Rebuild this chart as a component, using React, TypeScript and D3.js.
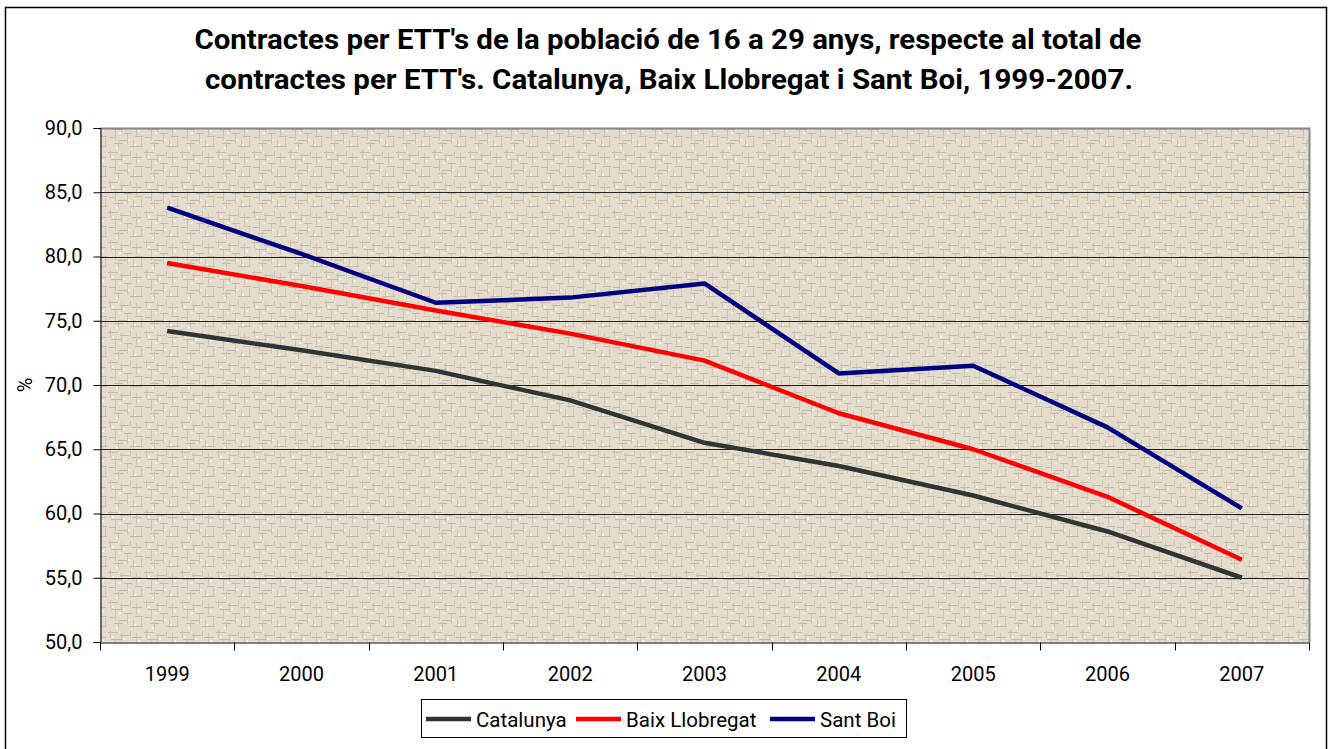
import React, { useEffect, useRef } from 'react';
import * as d3 from 'd3';

const years = ['1999', '2000', '2001', '2002', '2003', '2004', '2005', '2006', '2007'];
const catalunya = [74.2, 72.7, 71.1, 68.8, 65.5, 63.7, 61.4, 58.6, 55.0];
const baixLlobregat = [79.5, 77.7, 75.8, 74.0, 71.9, 67.8, 65.0, 61.3, 56.4];
const santBoi = [83.8, 80.2, 76.4, 76.8, 77.9, 70.9, 71.5, 66.7, 60.4];
const yTicks = [50, 55, 60, 65, 70, 75, 80, 85, 90];

const seriesList = [
  { name: 'Catalunya', values: catalunya, color: '#333333' },
  { name: 'Baix Llobregat', values: baixLlobregat, color: '#ff0000' },
  { name: 'Sant Boi', values: santBoi, color: '#000080' },
];

const W = 1330;
const H = 749;
const FONT = 'Roboto, "Liberation Sans", sans-serif';

const App = () => {
  const svgRef = useRef<SVGSVGElement>(null);

  useEffect(() => {
    const svg = d3.select(svgRef.current);
    svg.selectAll('*').remove();

    const left = 100, right = 1309, top = 128, bottom = 642;

    // woven texture for the plot background
    const defs = svg.append('defs');
    const pat = defs.append('pattern')
      .attr('id', 'weave')
      .attr('patternUnits', 'userSpaceOnUse')
      .attr('width', 36).attr('height', 30);
    pat.append('rect').attr('width', 36).attr('height', 30).attr('fill', '#e3dccc');
    const hl = [[0, 2, 10], [12, 5, 9], [3, 9, 14], [16, 13, 8], [1, 17, 7], [10, 20, 12], [6, 23, 9], [24, 7, 10], [22, 26, 13], [27, 16, 8]];
    hl.forEach(([x, y, w]) => pat.append('rect').attr('x', x).attr('y', y).attr('width', w).attr('height', 1).attr('fill', '#c6baa7'));
    const vl = [[2, 0, 8], [7, 10, 11], [13, 3, 9], [19, 14, 10], [22, 1, 6], [10, 22, 7], [28, 3, 12], [33, 18, 9], [25, 20, 8]];
    vl.forEach(([x, y, h]) => pat.append('rect').attr('x', x).attr('y', y).attr('width', 1).attr('height', h).attr('fill', '#cfc4b2'));
    const dots = [[4, 6], [15, 8], [20, 19], [8, 27], [11, 12], [30, 10], [26, 24]];
    dots.forEach(([x, y]) => pat.append('rect').attr('x', x).attr('y', y).attr('width', 2).attr('height', 2).attr('fill', '#f3efe6'));

    // outer frame
    svg.append('rect').attr('x', 5.5).attr('y', 7.5).attr('width', 1321).attr('height', 760)
      .attr('fill', '#ffffff').attr('stroke', '#000').attr('stroke-width', 1.5);

    // title
    const title = svg.append('text')
      .attr('text-anchor', 'middle')
      .attr('font-family', FONT)
      .attr('font-weight', 700)
      .attr('font-size', 27)
      .attr('fill', '#000');
    title.append('tspan').attr('x', 668).attr('y', 49)
      .attr('textLength', 947).attr('lengthAdjust', 'spacingAndGlyphs')
      .text("Contractes per ETT's de la població de 16 a 29 anys, respecte al total de");
    title.append('tspan').attr('x', 669).attr('y', 89)
      .attr('textLength', 928).attr('lengthAdjust', 'spacingAndGlyphs')
      .text("contractes per ETT's. Catalunya, Baix Llobregat i Sant Boi, 1999-2007.");

    const x = d3.scaleBand().domain(years).range([left, right]);
    const y = d3.scaleLinear().domain([50, 90]).range([bottom, top]);

    svg.append('rect').attr('x', left).attr('y', top)
      .attr('width', right - left).attr('height', bottom - top)
      .attr('fill', 'url(#weave)');

    // gridlines
    svg.append('g').selectAll('line')
      .data(yTicks.slice(1, -1))
      .enter().append('line')
      .attr('x1', left).attr('x2', right)
      .attr('y1', d => Math.round(y(d)) + 0.5).attr('y2', d => Math.round(y(d)) + 0.5)
      .attr('stroke', '#222').attr('stroke-width', 1);

    // plot border top/right
    svg.append('path')
      .attr('d', `M${left},${top + 0.5}H${right + 0.5}V${bottom}`)
      .attr('fill', 'none').attr('stroke', '#888').attr('stroke-width', 2);

    // y axis
    const yAxis = d3.axisLeft(y).tickValues(yTicks).tickSize(7).tickPadding(11)
      .tickFormat(d => d3.format('.1f')(d as number).replace('.', ','));
    const gy = svg.append('g').attr('transform', `translate(${left + 0.5},0)`).call(yAxis);
    gy.select('.domain').attr('stroke', '#000');
    gy.selectAll('.tick line').attr('stroke', '#000');
    gy.selectAll('text').attr('font-family', FONT).attr('font-size', 20).attr('fill', '#000');

    // x axis
    const gx = svg.append('g').attr('transform', `translate(0,${bottom + 0.5})`)
      .call(d3.axisBottom(x).tickSize(0).tickPadding(24));
    gx.select('.domain').attr('stroke', '#000');
    gx.selectAll('text').attr('font-family', FONT).attr('font-size', 20).attr('fill', '#000');
    gx.append('g').selectAll('line')
      .data([...years.map(d => x(d) as number), right])
      .enter().append('line')
      .attr('x1', d => Math.round(d) + 0.5).attr('x2', d => Math.round(d) + 0.5)
      .attr('y1', 0).attr('y2', 8).attr('stroke', '#000');

    svg.append('text')
      .attr('transform', 'translate(32,385) rotate(-90)')
      .attr('text-anchor', 'middle')
      .attr('font-family', FONT).attr('font-size', 20)
      .text('%');

    // lines
    const line = d3.line<number>()
      .x((_, i) => (x(years[i]) as number) + x.bandwidth() / 2)
      .y(d => y(d));
    svg.append('g').selectAll('path')
      .data(seriesList)
      .enter().append('path')
      .attr('d', d => line(d.values))
      .attr('fill', 'none')
      .attr('stroke', d => d.color)
      .attr('stroke-width', 4.5)
      .attr('stroke-linejoin', 'round');

    // legend
    const lg = svg.append('g');
    lg.append('rect').attr('x', 421.5).attr('y', 699.5).attr('width', 485).attr('height', 38)
      .attr('fill', '#fff').attr('stroke', '#000').attr('stroke-width', 1);
    const offsets = [426, 576, 770];
    seriesList.forEach((s, i) => {
      const ox = offsets[i];
      lg.append('line').attr('x1', ox).attr('x2', ox + 45).attr('y1', 719).attr('y2', 719)
        .attr('stroke', s.color).attr('stroke-width', 4.5);
      lg.append('text').attr('x', ox + 50).attr('y', 727)
        .attr('font-family', FONT).attr('font-size', 20.5).attr('fill', '#000')
        .text(s.name);
    });
  }, []);

  return (
    <svg ref={svgRef} width={W} height={H}
      style={{ position: 'absolute', left: 0, top: 0, background: '#fff' }} />
  );
};

export default App;
